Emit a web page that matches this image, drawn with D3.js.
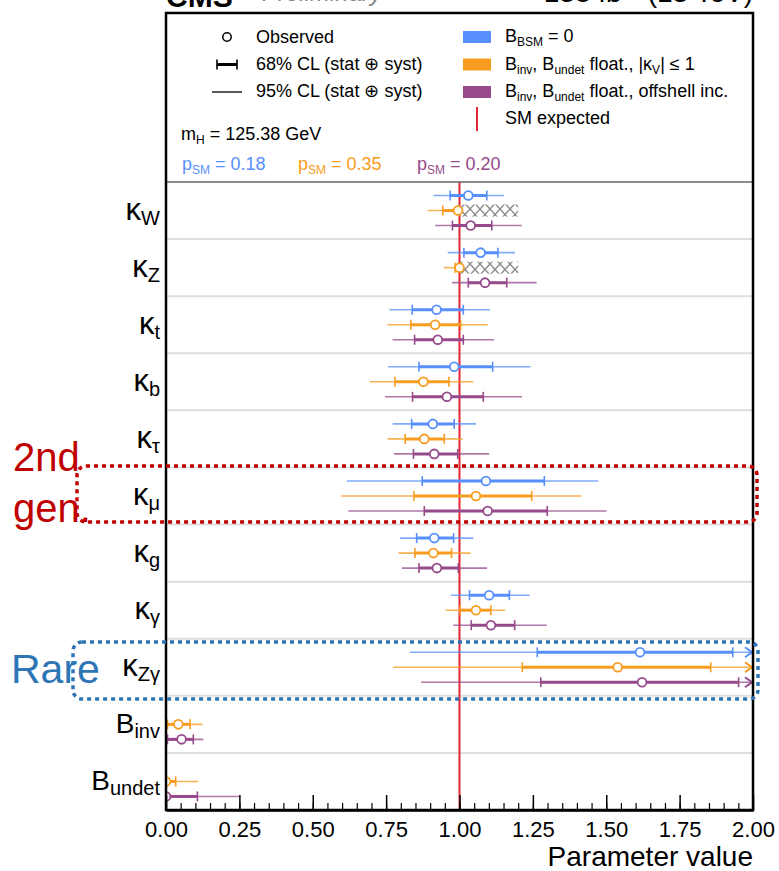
<!DOCTYPE html>
<html>
<head>
<meta charset="utf-8">
<script src="https://cdn.jsdelivr.net/npm/d3@7"></script>
<style>
  body { margin: 0; background: #fff; }
  svg { display: block; font-family: "Liberation Sans", Arial, sans-serif; }
</style>
</head>
<body>
<div id="chart"></div>
<script>
// parameters (rows, top to bottom)
const param_symbols = ["κ", "κ", "κ", "κ", "κ", "κ", "κ", "κ", "κ", "B", "B"]
const param_subs = ["W", "Z", "t", "b", "τ", "μ", "g", "γ", "Zγ", "inv", "undet"]

// scenarios
const series_keys = ["bsm0", "float_kv", "offshell"]
const series_colors = ["#5790fc", "#f89c20", "#964a8b"]
const p_sm_values = ["0.18", "0.35", "0.20"]

// [lo95, lo68, observed, hi68, hi95]; null hi95 = beyond axis range
const bsm0_values = [
  [0.911, 0.968, 1.030, 1.093, 1.152],
  [0.960, 1.015, 1.072, 1.131, 1.189],
  [0.761, 0.839, 0.922, 1.013, 1.104],
  [0.757, 0.862, 0.982, 1.113, 1.242],
  [0.772, 0.837, 0.909, 0.982, 1.056],
  [0.616, 0.873, 1.090, 1.289, 1.473],
  [0.797, 0.854, 0.914, 0.980, 1.047],
  [0.971, 1.034, 1.101, 1.170, 1.239],
  [0.831, 1.265, 1.615, 1.931, null],
  null,
  null
]
const float_kv_values = [
  [0.891, 0.943, 0.995, 1.000, 1.000],
  [0.946, 0.985, 1.000, 1.000, 1.000],
  [0.754, 0.834, 0.917, 1.004, 1.096],
  [0.695, 0.780, 0.877, 0.964, 1.047],
  [0.755, 0.815, 0.880, 0.948, 1.011],
  [0.596, 0.845, 1.056, 1.246, 1.415],
  [0.792, 0.848, 0.911, 0.973, 1.038],
  [0.952, 1.002, 1.056, 1.107, 1.155],
  [0.774, 1.214, 1.539, 1.856, null],
  [0.000, 0.005, 0.042, 0.082, 0.124],
  [0.000, 0.000, 0.000, 0.033, 0.110]
]
const offshell_values = [
  [0.917, 0.976, 1.038, 1.110, 1.212],
  [0.974, 1.030, 1.087, 1.161, 1.263],
  [0.772, 0.847, 0.926, 1.013, 1.118],
  [0.746, 0.840, 0.957, 1.081, 1.213],
  [0.777, 0.843, 0.914, 0.994, 1.101],
  [0.621, 0.880, 1.096, 1.299, 1.501],
  [0.804, 0.862, 0.923, 0.996, 1.094],
  [0.979, 1.040, 1.107, 1.188, 1.297],
  [0.869, 1.277, 1.622, 1.951, null],
  [0.000, 0.005, 0.053, 0.093, 0.127],
  [0.000, 0.000, 0.000, 0.107, 0.252]
]
// excluded by |kV| <= 1 (hatched), rows κW and κZ
const excluded_rows = [0, 1]
const excluded_range = [1.0, 1.2]

const x_ticks = [0, 0.25, 0.5, 0.75, 1, 1.25, 1.5, 1.75, 2]
const x_minor_ticks = d3.range(0, 41).map(i => i * 0.05)

const width = 779
const height = 871
const left = 166, right = 753, top_frame = 13, plot_top = 182, bottom = 810

const svg = d3.select("#chart").append("svg")
  .attr("width", width)
  .attr("height", height)

const x_scale = d3.scaleLinear().domain([0, 2]).range([left, right])
const y_band = d3.scaleBand().domain(d3.range(param_subs.length)).range([plot_top, bottom])
const offset = d3.scalePoint().domain(series_keys).range([-15, 15])
const color = d3.scaleOrdinal().domain(series_keys).range(series_colors)
const values_by_series = { bsm0: bsm0_values, float_kv: float_kv_values, offshell: offshell_values }

// hatch pattern
const defs = svg.append("defs")
const pat = defs.append("pattern")
  .attr("id", "hatch")
  .attr("patternUnits", "userSpaceOnUse")
  .attr("width", 10).attr("height", 11)
pat.append("path").attr("d", "M0,0 L10,11 M10,0 L0,11")
  .attr("stroke", "#8a8a8a").attr("stroke-width", 1.4).attr("fill", "none")
defs.append("clipPath").attr("id", "plot_clip")
  .append("rect").attr("x", left).attr("y", plot_top).attr("width", right - left).attr("height", bottom - plot_top)

// row separators
svg.append("g").selectAll("line")
  .data(d3.range(1, param_subs.length))
  .enter().append("line")
  .attr("x1", left).attr("x2", right)
  .attr("y1", d => y_band(d)).attr("y2", d => y_band(d))
  .attr("stroke", "#dedede").attr("stroke-width", 2)

// hatched exclusion
svg.append("g").selectAll("rect")
  .data(excluded_rows)
  .enter().append("rect")
  .attr("x", x_scale(excluded_range[0]))
  .attr("width", x_scale(excluded_range[1]) - x_scale(excluded_range[0]))
  .attr("y", d => y_band(d) + y_band.bandwidth() / 2 + offset("float_kv") - 6)
  .attr("height", 12)
  .attr("fill", "url(#hatch)")

// SM expected
svg.append("line")
  .attr("x1", x_scale(1)).attr("x2", x_scale(1))
  .attr("y1", plot_top).attr("y2", bottom)
  .attr("stroke", "#e42536").attr("stroke-width", 2)

// error bars and points
const marks = svg.append("g").attr("clip-path", "url(#plot_clip)")
const points = []
series_keys.forEach(key => {
  values_by_series[key].forEach((v, i) => {
    if (v) points.push({ key: key, row: i, v: v })
  })
})
const yc = d => y_band(d.row) + y_band.bandwidth() / 2 + offset(d.key)
const hi95 = d => d.v[4] === null ? 2 : d.v[4]

marks.selectAll("line.ci95").data(points).enter().append("line")
  .attr("x1", d => x_scale(d.v[0])).attr("x2", d => x_scale(hi95(d)))
  .attr("y1", yc).attr("y2", yc)
  .attr("stroke", d => color(d.key)).attr("stroke-width", 1.6).attr("opacity", 0.75)

marks.selectAll("line.ci68").data(points).enter().append("line")
  .attr("x1", d => x_scale(d.v[1])).attr("x2", d => x_scale(d.v[3]))
  .attr("y1", yc).attr("y2", yc)
  .attr("stroke", d => color(d.key)).attr("stroke-width", 3)

const caps = []
points.forEach(d => { caps.push({ d: d, x: d.v[1] }); caps.push({ d: d, x: d.v[3] }) })
marks.selectAll("line.cap").data(caps).enter().append("line")
  .attr("x1", c => x_scale(c.x)).attr("x2", c => x_scale(c.x))
  .attr("y1", c => yc(c.d) - 5).attr("y2", c => yc(c.d) + 5)
  .attr("stroke", c => color(c.d.key)).attr("stroke-width", 1.6)

marks.selectAll("path.arrow").data(points.filter(d => d.v[4] === null)).enter().append("path")
  .attr("d", d => `M${x_scale(2) - 8},${yc(d) - 5} L${x_scale(2) - 1},${yc(d)} L${x_scale(2) - 8},${yc(d) + 5}`)
  .attr("fill", "none").attr("stroke", d => color(d.key)).attr("stroke-width", 2)

marks.selectAll("circle").data(points).enter().append("circle")
  .attr("cx", d => x_scale(d.v[2])).attr("cy", yc).attr("r", 4.4)
  .attr("fill", "#fff").attr("stroke", d => color(d.key)).attr("stroke-width", 1.8)

// legend separator + frame
svg.append("line").attr("x1", left).attr("x2", right).attr("y1", plot_top).attr("y2", plot_top)
  .attr("stroke", "#666").attr("stroke-width", 1.5)
svg.append("rect").attr("x", left).attr("y", top_frame).attr("width", right - left).attr("height", bottom - top_frame)
  .attr("fill", "none").attr("stroke", "#000").attr("stroke-width", 2.5)

// axis
const minor_axis = d3.axisBottom(x_scale).tickValues(x_minor_ticks).tickSizeInner(-7).tickSizeOuter(0).tickFormat("")
svg.append("g").attr("transform", `translate(0,${bottom})`).call(minor_axis)
  .call(g => g.select(".domain").remove())
  .selectAll("line").attr("stroke-width", 1.2)
const x_axis = d3.axisBottom(x_scale).tickValues(x_ticks).tickSizeInner(-15).tickSizeOuter(0).tickFormat(d3.format(".2f"))
const axis_g = svg.append("g").attr("transform", `translate(0,${bottom})`).call(x_axis)
axis_g.select(".domain").attr("stroke-width", 2.5)
axis_g.selectAll("line").attr("stroke-width", 1.5)
axis_g.selectAll("text").attr("font-size", 22).attr("fill", "#000").attr("y", 26.5).attr("dy", 0)
  .attr("font-family", "Liberation Sans, Arial, sans-serif")
svg.append("text").attr("x", right).attr("y", 866).attr("text-anchor", "end")
  .attr("font-size", 28).text("Parameter value")

// row labels
const row_labels = svg.append("g").selectAll("text")
  .data(d3.range(param_subs.length))
  .enter().append("text")
  .attr("x", 160).attr("y", d => y_band(d) + y_band.bandwidth() / 2 + 9)
  .attr("text-anchor", "end").attr("font-size", 28)
row_labels.append("tspan").attr("font-size", d => param_symbols[d] === "κ" ? 31 : 28).text(d => param_symbols[d])
row_labels.append("tspan").attr("font-size", 20).attr("dy", 5).text(d => param_subs[d])

// title (cropped at the top)
svg.append("text").attr("x", left).attr("y", 7).attr("font-size", 30).attr("font-weight", "bold").text("CMS")
svg.append("text").attr("x", 262).attr("y", 1).attr("font-size", 24).attr("font-style", "italic").attr("fill", "#888").text("Preliminary")
svg.append("text").attr("x", right).attr("y", 2).attr("font-size", 28).attr("text-anchor", "end").text("138 fb⁻¹ (13 TeV)")

// legend, left column
const lg = svg.append("g").attr("font-size", 18)
lg.append("circle").attr("cx", 227).attr("cy", 37).attr("r", 4.2).attr("fill", "#fff").attr("stroke", "#000").attr("stroke-width", 1.5)
lg.append("line").attr("x1", 217).attr("x2", 237).attr("y1", 64.5).attr("y2", 64.5).attr("stroke", "#000").attr("stroke-width", 3)
lg.append("path").attr("d", "M217,59.5 V69.5 M237,59.5 V69.5").attr("stroke", "#000").attr("stroke-width", 1.6)
lg.append("line").attr("x1", 212).attr("x2", 242).attr("y1", 92).attr("y2", 92).attr("stroke", "#000").attr("stroke-width", 1.3)
lg.append("text").attr("x", 256).attr("y", 43).text("Observed")
lg.append("text").attr("x", 256).attr("y", 70).text("68% CL (stat ⊕ syst)")
lg.append("text").attr("x", 256).attr("y", 97).text("95% CL (stat ⊕ syst)")
const mh = lg.append("text").attr("x", 181).attr("y", 140)
mh.append("tspan").text("m")
mh.append("tspan").attr("font-size", 12).attr("dy", 4).text("H")
mh.append("tspan").attr("dy", -4).text(" = 125.38 GeV")

const p_x = [182, 298, 417]
series_keys.forEach((key, i) => {
  const t = lg.append("text").attr("x", p_x[i]).attr("y", 170).attr("fill", color(key))
  t.append("tspan").text("p")
  t.append("tspan").attr("font-size", 12).attr("dy", 4).text("SM")
  t.append("tspan").attr("dy", -4).text(" = " + p_sm_values[i])
})

// legend, right column
const box_y = [31, 58.5, 86]
series_keys.forEach((key, i) => {
  lg.append("rect").attr("x", 463).attr("y", box_y[i]).attr("width", 28).attr("height", 12).attr("fill", color(key))
})
const t1 = lg.append("text").attr("x", 505).attr("y", 42)
t1.append("tspan").text("B")
t1.append("tspan").attr("font-size", 12).attr("dy", 4).text("BSM")
t1.append("tspan").attr("dy", -4).text(" = 0")
const t2 = lg.append("text").attr("x", 505).attr("y", 69.5)
t2.append("tspan").text("B")
t2.append("tspan").attr("font-size", 12).attr("dy", 4).text("inv")
t2.append("tspan").attr("dy", -4).text(", B")
t2.append("tspan").attr("font-size", 12).attr("dy", 4).text("undet")
t2.append("tspan").attr("dy", -4).text(" float., |κ")
t2.append("tspan").attr("font-size", 12).attr("dy", 4).text("V")
t2.append("tspan").attr("dy", -4).text("| ≤ 1")
const t3 = lg.append("text").attr("x", 505).attr("y", 97)
t3.append("tspan").text("B")
t3.append("tspan").attr("font-size", 12).attr("dy", 4).text("inv")
t3.append("tspan").attr("dy", -4).text(", B")
t3.append("tspan").attr("font-size", 12).attr("dy", 4).text("undet")
t3.append("tspan").attr("dy", -4).text(" float., offshell inc.")
lg.append("line").attr("x1", 477).attr("x2", 477).attr("y1", 107).attr("y2", 131).attr("stroke", "#e42536").attr("stroke-width", 2)
lg.append("text").attr("x", 505).attr("y", 124).text("SM expected")

// annotations
svg.append("rect").attr("x", 77).attr("y", 466).attr("width", 680).attr("height", 56).attr("rx", 9)
  .attr("fill", "none").attr("stroke", "#c00000").attr("stroke-width", 3.5).attr("stroke-dasharray", "4,4")
svg.append("text").attr("x", 13).attr("y", 471).attr("font-size", 40).attr("fill", "#c00000").text("2nd")
svg.append("text").attr("x", 13).attr("y", 522).attr("font-size", 40).attr("fill", "#c00000").text("gen.")
svg.append("rect").attr("x", 73).attr("y", 642).attr("width", 685).attr("height", 57).attr("rx", 9)
  .attr("fill", "none").attr("stroke", "#2e75b6").attr("stroke-width", 3.5).attr("stroke-dasharray", "4,4")
svg.append("text").attr("x", 11).attr("y", 683).attr("font-size", 41).attr("fill", "#2e75b6").text("Rare")
</script>
</body>
</html>
